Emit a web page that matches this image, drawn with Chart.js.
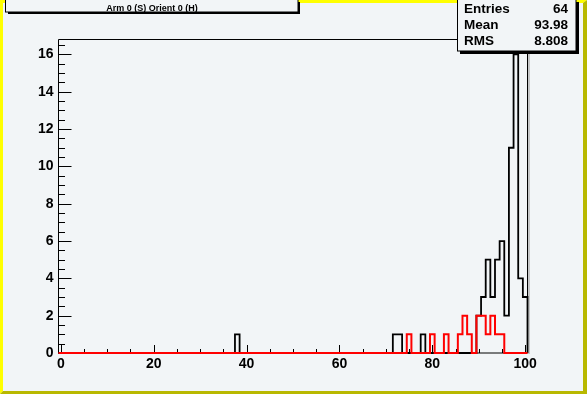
<!DOCTYPE html>
<html>
<head>
<meta charset="utf-8">
<script src="https://cdn.jsdelivr.net/npm/chart.js@4.4.1/dist/chart.umd.min.js"></script>
<style>
html, body { margin: 0; padding: 0; background: #f2f5f7; }
canvas { display: block; }
</style>
</head>
<body>
<canvas id="histo" width="587" height="394"></canvas>
<script>
// data
var histTitle = "Arm 0 (S) Orient 0 (H)";
var statNames = ["Entries", "Mean", "RMS"];
var statValues = ["64", "93.98", "8.808"];

var blackBins   = [38, 72, 73, 78, 90, 91, 92, 93, 94, 95, 96, 97, 98, 99, 100];
var blackCounts = [1, 1, 1, 1, 2, 3, 5, 3, 5, 6, 2, 11, 16, 4, 3];
var redBins     = [75, 80, 83, 86, 87, 88, 90, 91, 92, 93, 94, 95];
var redCounts   = [1, 1, 1, 1, 2, 1, 2, 2, 1, 2, 1, 1];

var xTicks = [0, 20, 40, 60, 80, 100];
var yTicks = [0, 2, 4, 6, 8, 10, 12, 14, 16];
var xMin = -0.5, xMax = 100.5, yMax = 16.8;

var fontFam = "'Liberation Sans', Arial, Helvetica, sans-serif";

// step outline, one pair of points per bin (bins are 1 wide, centred on integers)
function histPoints(bins, counts) {
	var pts = [];
	for (var k = 0; k <= 100; k++) {
		var i = bins.indexOf(k);
		var c = i >= 0 ? counts[i] : 0;
		pts.push({x: k - 0.5, y: c});
		pts.push({x: k + 0.5, y: c});
	}
	pts.push({x: xMax, y: 0});
	return pts;
}

var rootLook = {
	id: 'rootLook',
	beforeDraw: function(chart) {
		var c = chart.ctx, W = chart.width, H = chart.height;
		c.save();
		c.fillStyle = '#f2f5f7';
		c.fillRect(0, 0, W, H);
		// bevelled canvas border
		c.fillStyle = '#ffff00';
		c.beginPath();
		c.moveTo(0, 0); c.lineTo(W, 0); c.lineTo(W - 4, 3); c.lineTo(3, 3); c.lineTo(3, H - 3); c.lineTo(0, H);
		c.closePath(); c.fill();
		c.fillStyle = '#b8b800';
		c.beginPath();
		c.moveTo(W, 0); c.lineTo(W, H); c.lineTo(0, H); c.lineTo(3, H - 3); c.lineTo(W - 4, H - 3); c.lineTo(W - 4, 3);
		c.closePath(); c.fill();
		// title box
		c.fillStyle = '#000';
		c.fillRect(8, 12, 292, 2);
		c.fillRect(298, 2, 2, 12);
		c.fillStyle = '#f2f5f7';
		c.fillRect(6, 0, 292, 12);
		c.strokeStyle = '#000';
		c.lineWidth = 1;
		c.strokeRect(5.5, -0.5, 292.5, 12.5);
		c.fillStyle = '#000';
		c.font = 'bold 9px ' + fontFam;
		c.textAlign = 'center';
		c.textBaseline = 'alphabetic';
		c.fillText(histTitle, 152, 10.5);
		c.restore();
	},
	beforeDatasetsDraw: function(chart) {
		var c = chart.ctx, a = chart.chartArea;
		var xs = chart.scales.x, ys = chart.scales.y;
		c.save();
		c.strokeStyle = '#000';
		c.lineWidth = 1;
		c.beginPath();
		c.moveTo(a.left, a.bottom); c.lineTo(a.left, a.top); c.lineTo(a.right, a.top); c.lineTo(a.right, a.bottom); c.lineTo(a.left, a.bottom);
		c.stroke();
		c.strokeStyle = '#9a9a9a';
		c.beginPath();
		c.moveTo(a.right + 1.5, a.top + 1); c.lineTo(a.right + 1.5, a.bottom + 1);
		c.stroke();
		// ticks inside the frame
		c.strokeStyle = '#000';
		c.beginPath();
		for (var v = 0; v <= 100; v += 5) {
			var px = Math.round(xs.getPixelForValue(v)) + 0.5;
			var len = (v % 20 === 0) ? 8 : 4;
			c.moveTo(px, a.bottom); c.lineTo(px, a.bottom - len);
		}
		for (var w = 0; w <= 16.5; w += 0.5) {
			var py = Math.round(ys.getPixelForValue(w)) + 0.5;
			var ln = (w % 2 === 0) ? 13 : 6.5;
			c.moveTo(a.left, py); c.lineTo(a.left + ln, py);
		}
		c.stroke();
		c.restore();
	},
	afterDraw: function(chart) {
		var c = chart.ctx;
		c.save();
		// stats box
		c.fillStyle = '#000';
		c.fillRect(460, 51, 119, 3);
		c.fillRect(576, 2, 3, 52);
		c.fillStyle = '#f2f5f7';
		c.fillRect(458, 0, 118, 51);
		c.strokeStyle = '#000';
		c.lineWidth = 1;
		c.strokeRect(457.5, -0.5, 118.5, 51.5);
		c.fillStyle = '#000';
		c.font = 'bold 13.5px ' + fontFam;
		c.textBaseline = 'alphabetic';
		var base = [12.5, 29, 45];
		for (var i = 0; i < statNames.length; i++) {
			c.textAlign = 'left';
			c.fillText(statNames[i], 464, base[i]);
			c.textAlign = 'right';
			c.fillText(statValues[i], 568, base[i]);
		}
		c.restore();
	}
};

var ctx = document.getElementById("histo");
var histChart = new Chart(ctx, {
	type: 'line',
	data: {
		datasets: [
			{
				label: 'red',
				data: histPoints(redBins, redCounts),
				borderColor: '#ff0000',
				borderWidth: 2,
				pointRadius: 0,
				tension: 0,
				fill: false,
				clip: 4
			},
			{
				label: 'black',
				data: histPoints(blackBins, blackCounts),
				borderColor: '#000000',
				borderWidth: 1.8,
				pointRadius: 0,
				tension: 0,
				fill: false,
				clip: 4
			}
		]
	},
	options: {
		responsive: false,
		animation: false,
		devicePixelRatio: 1,
		layout: { padding: { left: 0, top: 39.5, right: 59.5, bottom: 0 } },
		plugins: { legend: { display: false }, tooltip: { enabled: false } },
		scales: {
			x: {
				type: 'linear',
				min: xMin,
				max: xMax,
				grid: { display: false, drawTicks: false },
				border: { display: false },
				afterBuildTicks: function(s) { s.ticks = xTicks.map(function(v) { return {value: v}; }); },
				afterFit: function(s) { s.height = 41; },
				ticks: {
					autoSkip: false,
					maxRotation: 0,
					padding: 3,
					color: '#000',
					font: { family: fontFam, size: 14, weight: 'bold' },
					callback: function(v) { return v; }
				}
			},
			y: {
				min: 0,
				max: yMax,
				grid: { display: false, drawTicks: false },
				border: { display: false },
				afterBuildTicks: function(s) { s.ticks = yTicks.map(function(v) { return {value: v}; }); },
				afterFit: function(s) { s.width = 58.5; },
				ticks: {
					autoSkip: false,
					padding: 5,
					color: '#000',
					font: { family: fontFam, size: 14, weight: 'bold' },
					callback: function(v) { return v; }
				}
			}
		}
	},
	plugins: [rootLook]
});
</script>
</body>
</html>
